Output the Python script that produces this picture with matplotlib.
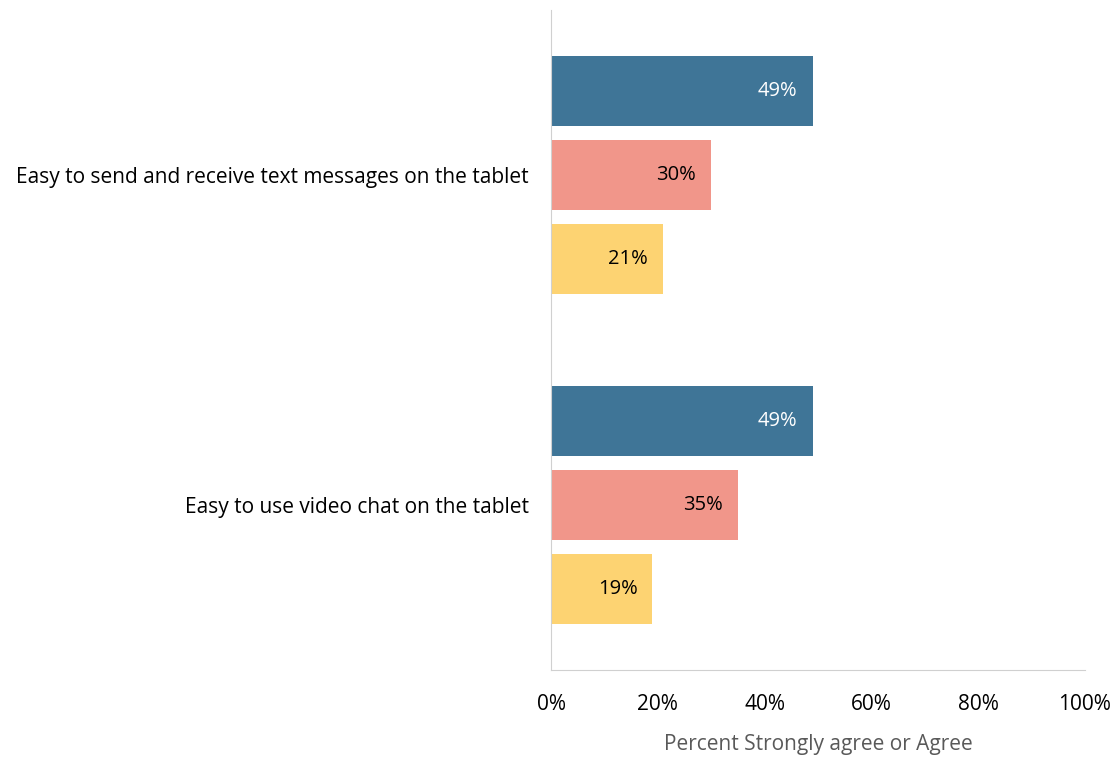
import numpy as np
import matplotlib.pyplot as plt

plt.rcParams['font.family'] = ['Open Sans', 'DejaVu Sans']

categories = ['Easy to send and receive text messages on the tablet',
              'Easy to use video chat on the tablet']
# three response groups per item, top to bottom
series_blue = [49, 49]
series_red = [30, 35]
series_yellow = [21, 19]
xticks = [0, 20, 40, 60, 80, 100]

colors = ['#3F7597', '#F1968A', '#FDD372']
text_colors = ['white', 'black', 'black']

fig = plt.figure(figsize=(11.14, 7.59), dpi=100)
ax = fig.add_axes([551/1114, 1 - 670/759, (1085-551)/1114, 660/759])

ypos = np.arange(len(categories))
height = 0.212
offset = 0.255
for i, (vals, c, tc) in enumerate(zip([series_blue, series_red, series_yellow], colors, text_colors)):
    y = ypos + (i - 1) * offset
    ax.barh(y, vals, height=height, color=c)
    for yy, v in zip(y, vals):
        ax.text(v - 2.8, yy, f'{v}%', ha='right', va='center', fontsize=14.5, color=tc)

ax.set_ylim(1.5, -0.5)
ax.set_xlim(0, 100)
ax.set_yticks(ypos)
ax.set_yticklabels(categories, fontsize=15)
ax.set_xticks(xticks)
ax.set_xticklabels([f'{t}%' for t in xticks], fontsize=15)
ax.tick_params(axis='both', length=0)
ax.tick_params(axis='x', pad=17)
ax.tick_params(axis='y', pad=16)
ax.set_xlabel('Percent Strongly agree or Agree', fontsize=15, color='#595959', labelpad=14)

for s in ['top', 'right']:
    ax.spines[s].set_visible(False)
ax.spines['left'].set_color('#D0D0D0')
ax.spines['bottom'].set_color('#D0D0D0')

fig.savefig('out.png', dpi=100)
